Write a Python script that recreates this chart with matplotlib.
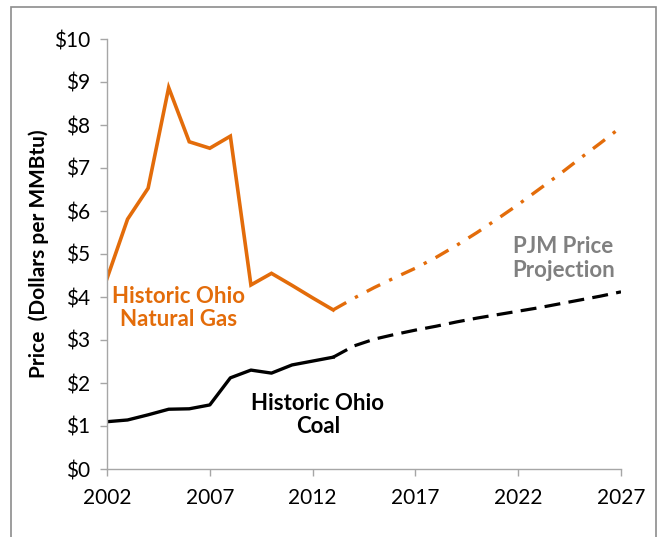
import matplotlib
matplotlib.use("Agg")
import matplotlib.pyplot as plt
from matplotlib.patches import Rectangle

plt.rcParams['font.family'] = ['Lato', 'DejaVu Sans']

# Historic data
hist_years = [2002, 2003, 2004, 2005, 2006, 2007, 2008, 2009, 2010, 2011, 2012, 2013]
gas_hist = [4.43, 5.81, 6.53, 8.87, 7.61, 7.46, 7.74, 4.28, 4.55, 4.27, 3.98, 3.70]
coal_hist = [1.10, 1.14, 1.26, 1.39, 1.40, 1.49, 2.12, 2.30, 2.23, 2.42, 2.51, 2.60]

# PJM projections
proj_years = [2013, 2014, 2015, 2016, 2017, 2018, 2019, 2020, 2021, 2022, 2023, 2024, 2025, 2026, 2027]
gas_proj = [3.70, 3.97, 4.22, 4.45, 4.67, 4.92, 5.20, 5.50, 5.82, 6.15, 6.50, 6.85, 7.22, 7.58, 7.95]
coal_proj = [2.60, 2.86, 3.02, 3.13, 3.23, 3.32, 3.42, 3.51, 3.59, 3.67, 3.75, 3.84, 3.93, 4.02, 4.12]

x_ticks = [2002, 2007, 2012, 2017, 2022, 2027]
y_ticks = list(range(0, 11))
y_labels = [f"${v}" for v in y_ticks]

ORANGE = '#E36C0A'
GRAY_TXT = '#808080'
AXIS = '#A6A6A6'

W, H = 662, 537
fig = plt.figure(figsize=(W / 100, H / 100), dpi=100)
ax = fig.add_axes([107 / W, 1 - 469 / H, (621 - 107) / W, (469 - 39) / H])

# outer border box
fig.patches.append(Rectangle((11 / W, -0.05), (656 - 11) / W, 1 - 7 / H + 0.05,
                             transform=fig.transFigure, fill=False,
                             edgecolor='#8C8C8C', linewidth=1.2))

ax.plot(proj_years, gas_proj, color=ORANGE, lw=2.4, dashes=(4.5, 3.0, 1, 3.0), solid_capstyle='butt')
ax.plot(proj_years, coal_proj, color='black', lw=2.3, dashes=(5, 2.6))
ax.plot(hist_years, gas_hist, color=ORANGE, lw=2.6, solid_joinstyle='miter')
ax.plot(hist_years, coal_hist, color='black', lw=2.4)

ax.set_xlim(2002, 2027)
ax.set_ylim(0, 10)
ax.set_xticks(x_ticks)
ax.set_xticklabels([str(y) for y in x_ticks])
ax.set_yticks(y_ticks)
ax.set_yticklabels(y_labels)

for s in ['top', 'right']:
    ax.spines[s].set_visible(False)
for s in ['left', 'bottom']:
    ax.spines[s].set_color(AXIS)
    ax.spines[s].set_linewidth(1.0)
ax.tick_params(axis='both', direction='out', color=AXIS, length=5, width=1.0,
               labelsize=15, labelcolor='black')
ax.tick_params(axis='y', pad=7)
ax.tick_params(axis='x', pad=9)

ax.set_ylabel('Price  (Dollars per MMBtu)', fontsize=15, fontweight='bold')
ax.yaxis.set_label_coords(-0.112, 0.5)

ax.text(2005.5, 3.74, 'Historic Ohio\nNatural Gas', color=ORANGE, fontsize=16,
        fontweight='bold', ha='center', va='center', linespacing=1.15)
ax.text(2012.26, 1.26, 'Historic Ohio\nCoal', color='black', fontsize=16,
        fontweight='bold', ha='center', va='center', linespacing=1.15)
ax.text(2024.2, 4.9, 'PJM Price\nProjection', color=GRAY_TXT, fontsize=16,
        fontweight='bold', ha='center', va='center', linespacing=1.15)

fig.savefig('out.png', dpi=100)
